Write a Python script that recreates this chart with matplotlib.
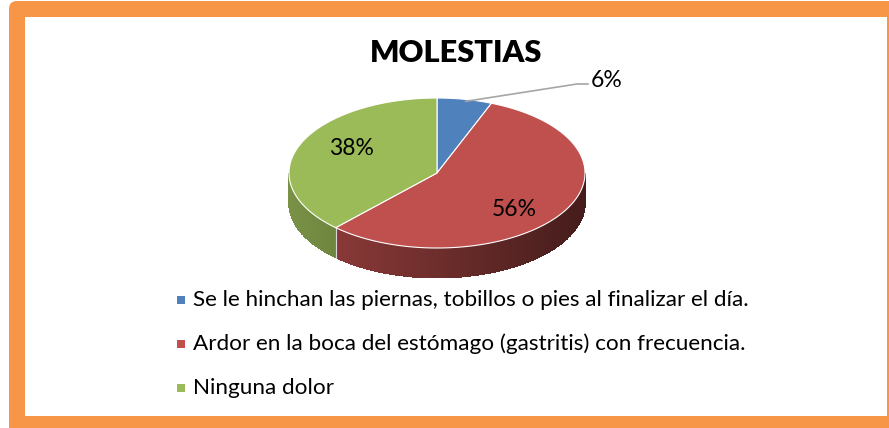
import numpy as np
import matplotlib
matplotlib.use("Agg")
import matplotlib.pyplot as plt
from matplotlib.patches import Polygon, FancyBboxPatch, Rectangle
import matplotlib.colors as mcolors

title = "MOLESTIAS"
categories = [
    "Se le hinchan las piernas, tobillos o pies al finalizar el día.",
    "Ardor en la boca del estómago (gastritis) con frecuencia.",
    "Ninguna dolor",
]
values = [6, 56, 38]
labels = ["6%", "56%", "38%"]
colors = ["#4F81BD", "#C0504D", "#9BBB59"]

W, H = 889, 428
fig = plt.figure(figsize=(W / 100, H / 100), dpi=100)
ax = fig.add_axes([0, 0, 1, 1])
ax.set_xlim(0, W)
ax.set_ylim(H, 0)
ax.axis("off")
renderer = fig.canvas.get_renderer()

def fit(txt, target_w):
    txt.set_fontsize(10)
    w = txt.get_window_extent(renderer).width
    txt.set_fontsize(10 * target_w / w)

# orange frame
ax.add_patch(FancyBboxPatch((9, 1), 905, 450, boxstyle="round,pad=0,rounding_size=8",
                            facecolor="#F79646", edgecolor="none", zorder=0))
ax.add_patch(Rectangle((25, 17), 862, 399, facecolor="white", edgecolor="none", zorder=1))

t = ax.text(456, 53, title, fontsize=22, fontweight="heavy", family="Lato",
            ha="center", va="center", zorder=10)
fit(t, 173)

# 3D pie geometry
cx, cy, rx, ry, depth = 437, 173, 148, 75, 30
fr = np.array(values, float) / sum(values)
starts = 90 - 360 * np.concatenate([[0], np.cumsum(fr)[:-1]])
ends = starts - 360 * fr

def pt(t):
    t = np.radians(t)
    return cx + rx * np.cos(t), cy - ry * np.sin(t)

# sides (front half: t in [-180, 0])
for s, e, c in zip(starts, ends, colors):
    lo, hi = max(e, -180), min(s, 0)
    if hi <= lo:
        continue
    base = np.array(mcolors.to_rgb(c))
    ts = np.linspace(lo, hi, max(int((hi - lo) * 2), 2))
    for t1, t2 in zip(ts[:-1], ts[1:]):
        x1, y1 = pt(t1)
        x2, y2 = pt(t2)
        xm = (x1 + x2) / 2
        f = 0.78 - 0.42 * (xm - (cx - rx)) / (2 * rx)
        col = np.clip(base * f, 0, 1)
        ax.add_patch(Polygon([(x1 - 0.3, y1), (x2 + 0.3, y2), (x2 + 0.3, y2 + depth), (x1 - 0.3, y1 + depth)],
                             closed=True, facecolor=col, edgecolor="none", antialiased=False, zorder=3))
    xb, yb = pt(lo)
    if lo > -180:
        ax.plot([xb, xb], [yb, yb + depth], color="#D9D9D9", lw=0.8, zorder=3.5)

# top faces
for s, e, c in zip(starts, ends, colors):
    ts = np.linspace(s, e, 200)
    xs, ys = pt(ts)
    poly = [(cx, cy)] + list(zip(xs, ys))
    ax.add_patch(Polygon(poly, closed=True, facecolor=c, edgecolor="white", lw=0.8, zorder=4))

# labels
mids = (starts + ends) / 2
fs = 16.5
for i, (m, lab) in enumerate(zip(mids, labels)):
    if fr[i] < 0.1:
        x0, y0 = pt(m)
        x0, y0 = x0 + 1, y0 + 2
        ax.plot([x0, 577, 588], [y0, 84, 84], color="#A6A6A6", lw=1.2, zorder=6)
        ax.text(591, 80, lab, fontsize=fs, family="Lato", ha="left", va="center", zorder=10)
    else:
        t = np.radians(m)
        x = cx + 0.62 * rx * np.cos(t)
        y = cy - 0.9 * ry * np.sin(t)
        ax.text(x, y, lab, fontsize=fs, family="Lato", ha="center", va="center", zorder=10)

# legend
ys = [299.5, 344, 388]
txts = []
for y, c, cat in zip(ys, colors, categories):
    ax.add_patch(Rectangle((177, y - 4), 8, 8, facecolor=c, edgecolor="none", zorder=5))
    txts.append(ax.text(193, y, cat, fontsize=14, family="Lato", ha="left", va="center", zorder=10))
fit(txts[0], 554)
for tt in txts[1:]:
    tt.set_fontsize(txts[0].get_fontsize())

fig.savefig("out.png", dpi=100)
